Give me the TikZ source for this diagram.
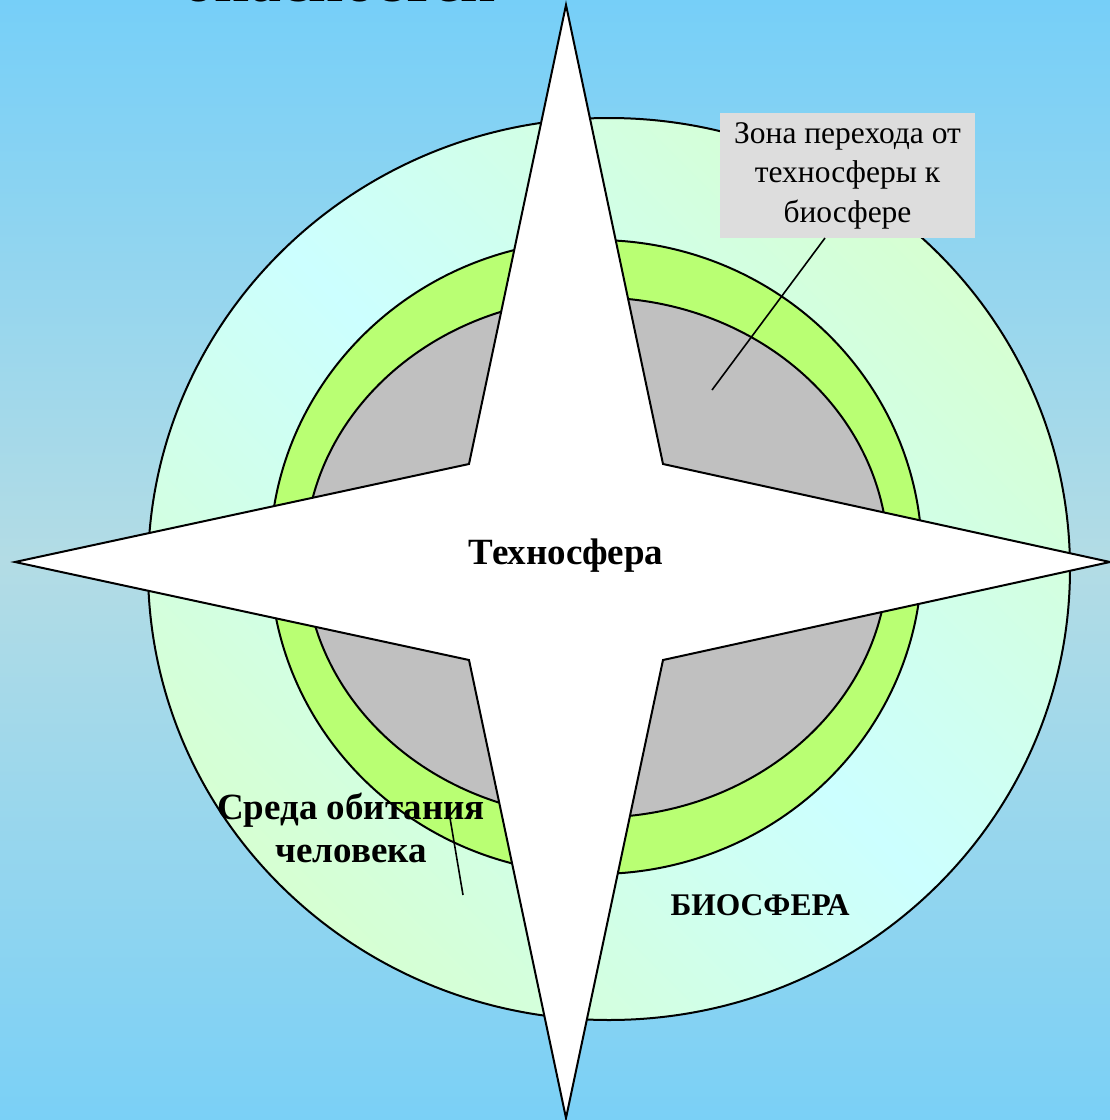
\documentclass[tikz,border=0pt]{standalone}
\usepackage{fontspec}
\setmainfont{Liberation Serif}
\definecolor{bgtop}{HTML}{76CFF8}
\definecolor{bgmid}{HTML}{B3DCE5}
\definecolor{bgbot}{HTML}{7AD0F6}
\definecolor{biocyan}{HTML}{CCFFFF}
\definecolor{biogreen}{HTML}{D6FFD2}
\definecolor{ringgreen}{HTML}{B9FF73}
\definecolor{techgray}{HTML}{C0C0C0}
\definecolor{boxgray}{HTML}{DDDDDD}
\begin{document}
\begin{tikzpicture}[x=1pt,y=-1pt,
  outline/.style={draw=black,line width=2pt},
  pointer/.style={draw=black,line width=1.6pt},
  boldlabel/.style={font=\bfseries\fontsize{37}{43}\selectfont,inner sep=0pt,align=center},
  capslabel/.style={font=\bfseries\fontsize{31.5}{36}\selectfont,inner sep=0pt},
  zonebox/.style={fill=boxgray,minimum width=255,minimum height=125,inner sep=0pt,align=center,font=\fontsize{31.5}{39.5}\selectfont}]
\useasboundingbox (0,0) rectangle (1110,1120);
\clip (0,0) rectangle (1110,1120);
% background
\shade[top color=bgtop, bottom color=bgbot, middle color=bgmid] (0,0) rectangle (1110,1120);
% title remnant
\node[anchor=base, font=\bfseries\fontsize{62}{62}\selectfont, inner sep=0pt] (title) at (340,1) {опасностей};
% biosphere disc
\shade[top color=biogreen, bottom color=biogreen, middle color=biocyan, shading angle=-45] (609,569) ellipse [x radius=461, y radius=451];
\draw[outline] (609,569) ellipse [x radius=461, y radius=451];
% habitat ring
\draw[outline, fill=ringgreen] (596,557) ellipse [x radius=326, y radius=317];
% technosphere core
\draw[outline, fill=techgray] (596.5,557.5) ellipse [x radius=291.5, y radius=260];
% zone label
\node[zonebox] (zone) at (847.5,175.5) {Зона перехода от\\техносферы к\\биосфере};
\coordinate (zonefoot) at (825,238);
\coordinate (zonetip) at (712,390);
\draw[pointer] (zonefoot) -- (zonetip);
% star
\draw[outline, fill=white, line join=miter] (566,5) -- (663,464) -- (1110,562) -- (663,660) -- (566,1118) -- (469,660) -- (15,562) -- (469,464) -- cycle;
% labels
\node[boldlabel] (tech) at (566,556) {Техносфера};
\coordinate (habfoot) at (450,818);
\coordinate (habtip) at (463,895);
\draw[pointer] (habfoot) -- (habtip);
\node[boldlabel] (habitat) at (351,828) {Среда обитания\\человека};
\node[capslabel] (bio) at (760,905) {БИОСФЕРА};
\end{tikzpicture}
\end{document}
